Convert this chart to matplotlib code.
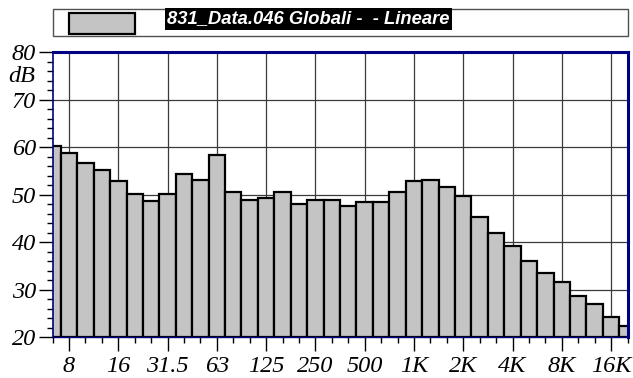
import matplotlib.pyplot as plt
from matplotlib.patches import Rectangle

# 1/3 octave bands, 6.3 Hz .. 20 kHz
bands = ["6.3", "8", "10", "12.5", "16", "20", "25", "31.5", "40", "50",
         "63", "80", "100", "125", "160", "200", "250", "315", "400", "500",
         "630", "800", "1K", "1.25K", "1.6K", "2K", "2.5K", "3.15K", "4K", "5K",
         "6.3K", "8K", "10K", "12.5K", "16K", "20K"]
levels = [60.2, 58.8, 56.7, 55.3, 52.9, 50.2, 48.7, 50.2, 54.4, 53.1,
          58.3, 50.5, 48.9, 49.3, 50.6, 48.1, 48.8, 48.8, 47.6, 48.5,
          48.5, 50.5, 52.8, 53.1, 51.7, 49.7, 45.2, 41.9, 39.2, 36.0,
          33.5, 31.6, 28.7, 26.9, 24.3, 22.3]
tick_labels = ["8", "16", "31.5", "63", "125", "250", "500", "1K", "2K", "4K", "8K", "16K"]
legend_text = "831_Data.046 Globali -  - Lineare"

W, H = 633, 378
fig = plt.figure(figsize=(W / 100, H / 100), dpi=100)
ax = fig.add_axes([52.6 / W, 1 - 337 / H, (627.5 - 52.6) / W, (337 - 52.3) / H])

x = list(range(len(bands)))
ax.bar(x, [v - 20 for v in levels], bottom=20, width=1.0,
       color="#c4c4c4", edgecolor="black", linewidth=1.6, zorder=3)

ax.set_xlim(0, len(bands) - 1)
ax.set_ylim(20, 80)

serif = dict(family="Liberation Serif", style="italic", size=17.5)

tick_pos = [bands.index(t) for t in tick_labels]
ax.set_xticks(tick_pos)
ax.set_xticklabels(tick_labels, fontdict=serif)
ax.set_xticks(x, minor=True)
ax.set_yticks(range(20, 81, 10))
ax.set_yticklabels([str(v) for v in range(20, 81, 10)], fontdict=serif)
ax.set_yticks(range(20, 81, 2), minor=True)
ax.tick_params(axis="x", which="major", length=10, width=1, direction="out", pad=4)
ax.tick_params(axis="x", which="minor", length=4.5, width=1, direction="out")
ax.tick_params(axis="y", which="major", length=10, width=1, direction="out", pad=2)
ax.tick_params(axis="y", which="minor", length=4.5, width=1, direction="out")

ax.grid(True, which="major", color="#3a3a3a", linewidth=0.9, zorder=1)

for side in ["top", "right"]:
    ax.spines[side].set_color("#000080")
    ax.spines[side].set_linewidth(2.2)
ax.spines["left"].set_color("#000080")
ax.spines["left"].set_linewidth(1.2)
ax.spines["bottom"].set_color("#000080")
ax.spines["bottom"].set_linewidth(1.0)
for s in ax.spines.values():
    s.set_zorder(5)

fig.text(8 / W, 1 - 77 / H, "dB", ha="left", va="center", **serif)

# legend box
fig.patches.append(Rectangle((52.7 / W, 1 - 36 / H), (627.7 - 52.7) / W, 26.7 / H,
                             transform=fig.transFigure, facecolor="white",
                             edgecolor="#505050", linewidth=1.0))
fig.patches.append(Rectangle((69.3 / W, 1 - 34 / H), 66 / W, 21 / H,
                             transform=fig.transFigure, facecolor="#c4c4c4",
                             edgecolor="black", linewidth=1.6))
fig.text(167 / W, 1 - 19 / H, legend_text, ha="left", va="center",
         family="Liberation Sans", weight="bold", style="italic", size=13.2,
         color="white",
         bbox=dict(facecolor="black", edgecolor="none", pad=1.5))

fig.savefig("out.png", dpi=100)
